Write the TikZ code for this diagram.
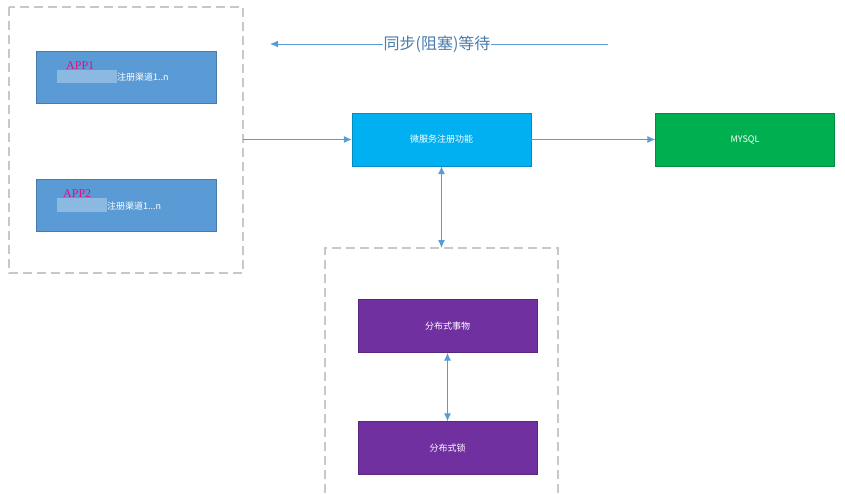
\documentclass[tikz,border=0pt]{standalone}
\usepackage{fontspec}
\setmainfont{Liberation Sans}
\newfontfamily\cjk{Noto Sans CJK SC}
\newfontfamily\serifapp{Liberation Serif}
\usetikzlibrary{arrows.meta}
\definecolor{bblue}{HTML}{5B9BD5}
\definecolor{cyanb}{HTML}{00B0F0}
\definecolor{greenb}{HTML}{00B050}
\definecolor{purp}{HTML}{7030A0}
\definecolor{dgray}{HTML}{C8C8C8}
\definecolor{linec}{HTML}{5B9BD5}
\tikzset{
 box/.style={draw=#1!80!black, line width=0.4pt, fill=#1, text=white, minimum width=179pt, minimum height=53pt, inner sep=0pt, font=\cjk\fontsize{9}{11}\selectfont},
 grp/.style={draw=dgray, line width=1.3pt, dash pattern=on 9pt off 5pt},
 conn/.style={draw=linec, line width=1pt, -{Latex[length=8pt,width=7pt]}},
 dconn/.style={draw=linec, line width=1pt, {Latex[length=8pt,width=7pt]}-{Latex[length=8pt,width=7pt]}},
 app/.style={text=magenta!85!purple, font=\serifapp\fontsize{12}{12}\selectfont, inner sep=0pt}
}
\begin{document}
\begin{tikzpicture}[x=1pt,y=-1pt]
\useasboundingbox (0,0) rectangle (845,493);
\draw[grp] (9,7) rectangle (243,273);
\draw[grp] (325,493) -- (325,248) -- (558,248) -- (558,493);
\node[box=bblue, minimum width=180pt, minimum height=52pt] (a1) at (126,77) {};
\fill[white, opacity=0.3] (57,70) rectangle (117,83);
\node[anchor=west, text=white, font=\cjk\fontsize{9}{11}\selectfont, inner sep=0pt] (t1) at (117,77) {注册渠道1..n};
\node[app, anchor=south west] (p1) at (66,70) {APP1};
\node[box=bblue, minimum width=180pt, minimum height=52pt] (a2) at (126,205) {};
\fill[white, opacity=0.3] (57,198) rectangle (107,212);
\node[anchor=west, text=white, font=\cjk\fontsize{9}{11}\selectfont, inner sep=0pt] (t2) at (107,206) {注册渠道1...n};
\node[app, anchor=south west] (p2) at (63,198) {APP2};
\node[box=cyanb] (ms) at (441.5,139.5) {微服务注册功能};
\node[box=greenb] (db) at (745,139.5) {MYSQL};
\node[box=purp] (tx) at (447.5,326) {分布式事物};
\node[box=purp] (lk) at (447.5,448) {分布式锁};
\coordinate (gr) at (243,139.5);
\coordinate (ls) at (608,44);
\coordinate (le) at (270,44);
\coordinate (gt) at (441.5,248);
\draw[conn] (ls) -- (le);
\node[fill=white, inner sep=1pt, text=linec!80!black, font=\cjk\fontsize{16}{18}\selectfont] (sync) at (437,44) {同步(阻塞)等待};
\draw[conn] (gr) -- (ms.west);
\draw[conn] (ms.east) -- (db.west);
\draw[dconn] (ms.south) -- (gt);
\draw[dconn] (tx.south) -- (lk.north);
\end{tikzpicture}
\end{document}
